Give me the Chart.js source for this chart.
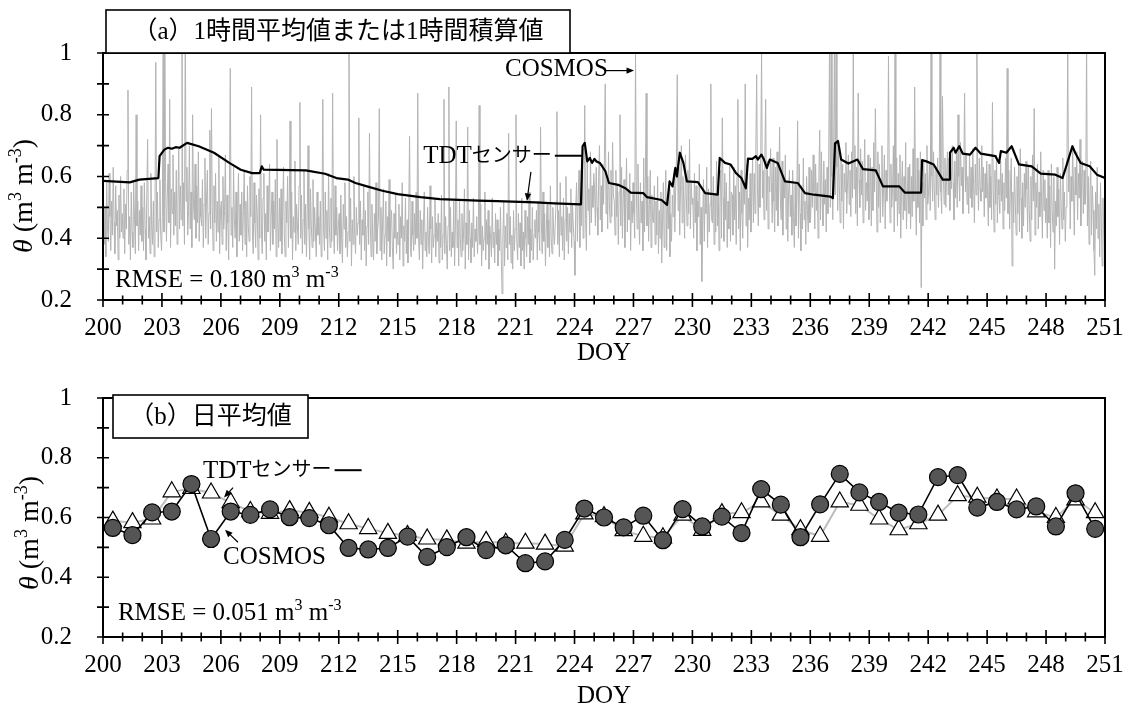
<!DOCTYPE html>
<html>
<head>
<meta charset="utf-8">
<script src="https://cdn.jsdelivr.net/npm/chart.js@4.4.1/dist/chart.umd.min.js"></script>
<style>
  html, body { margin: 0; padding: 0; background: #fff; }
  #wrap { position: relative; width: 1129px; height: 713px; overflow: hidden; }
  .panel { position: absolute; left: 0; }
</style>
</head>
<body>
<div id="wrap">
  <canvas id="daily" class="panel" style="top:360px" width="1129" height="353"></canvas>
  <canvas id="hourly" class="panel" style="top:0" width="1129" height="372"></canvas>
</div>
<script>
// ---- axis ranges and tick labels ----
const DOY_MIN = 200;
const DOY_MAX = 251;
const doyTickLabels = [200, 203, 206, 209, 212, 215, 218, 221, 224, 227, 230, 233, 236, 239, 242, 245, 248, 251];
const thetaTickLabels = [0.2, 0.4, 0.6, 0.8, 1.0];

// ---- (a) hourly COSMOS soil moisture, vol% (one row per DOY, 24 hours each) ----
const cosmosHourlyVolPct = [
  [55,38,50,34,58,43,39,61,47,36,52,41,63,45,35,57,44,49,33,54,40,60,42,48], // 200
  [40,56,35,51,43,62,88,38,47,33,55,42,37,58,46,35,80,44,52,36,49,41,57,39],
  [50,36,58,43,33,54,72,40,47,35,61,44,38,52,34,49,97,42,55,37,46,59,41,36],
  [47,105,42,110,58,39,53,64,45,85,37,56,48,67,41,55,44,62,38,51,69,43,57,46],
  [108,44,58,38,112,52,63,41,49,70,43,55,37,80,51,46,64,40,57,45,68,39,53,47],
  [44,59,37,51,66,40,53,62,38,48,75,43,82,50,36,57,45,61,39,52,42,67,35,49], // 205
  [52,38,60,43,49,67,36,54,45,33,58,95,41,50,37,63,46,40,55,34,48,61,39,51],
  [41,55,36,49,62,38,52,34,57,44,39,60,47,89,42,35,58,45,37,54,48,33,56,40],
  [80,43,35,53,61,39,48,33,57,42,50,64,36,47,55,38,52,43,59,34,72,45,37,53],
  [39,56,35,48,63,41,34,52,45,60,37,50,78,40,55,33,47,42,65,36,51,44,38,57],
  [84,40,54,35,46,62,38,51,34,48,70,43,33,56,44,37,59,39,50,42,34,55,41,47], // 210
  [38,52,34,46,85,43,36,55,40,49,33,61,44,37,53,39,87,46,35,57,41,50,36,44],
  [48,35,54,40,32,51,43,58,37,47,34,42,105,39,53,31,46,38,60,42,35,50,41,45],
  [79,38,52,33,46,41,57,36,49,31,44,55,38,74,45,34,51,40,33,48,39,58,35,43],
  [46,82,36,50,33,44,56,35,41,52,31,47,39,59,34,45,49,37,30,48,40,54,35,42],
  [38,51,33,47,40,58,31,44,39,53,35,46,32,49,73,37,34,52,41,36,48,38,55,40], // 215
  [87,40,33,49,38,46,30,44,55,36,42,34,50,39,35,57,43,32,47,37,41,53,34,45],
  [39,48,32,45,37,54,33,41,85,35,47,38,30,44,89,36,50,34,42,37,52,31,44,78],
  [37,46,31,52,40,34,48,36,42,56,30,45,38,76,33,49,40,32,45,37,53,34,43,39],
  [47,35,43,83,38,51,31,44,36,40,55,33,46,38,49,30,44,40,34,53,37,42,32,48],
  [38,46,31,43,36,50,34,22,40,52,31,44,37,48,33,74,38,47,32,41,30,49,36,43], // 220
  [80,39,33,48,37,45,31,53,36,42,30,49,40,34,47,38,55,32,43,36,50,33,41,46],
  [40,49,33,52,42,36,76,45,35,55,39,48,31,43,51,37,46,34,57,40,35,50,42,38],
  [45,52,81,38,49,34,58,41,47,36,53,33,46,60,39,50,35,48,42,56,37,51,44,39],
  [28,50,58,39,53,62,37,55,44,63,40,52,83,46,36,65,49,56,41,68,45,57,50,61],
  [56,44,63,50,41,60,70,46,57,42,64,51,67,90,48,59,43,68,52,45,62,47,71,54], // 225
  [52,41,62,47,57,38,55,80,44,63,40,53,59,37,50,66,42,56,46,61,36,52,45,58],
  [48,40,100,55,43,64,47,38,58,45,52,36,66,42,56,87,44,60,39,51,62,37,54,46],
  [45,57,38,52,41,60,35,49,40,55,32,46,58,37,50,62,36,53,43,56,34,48,39,54],
  [47,61,42,55,66,93,49,63,41,57,70,45,60,52,40,67,54,44,62,48,72,43,58,51],
  [53,40,61,45,57,36,52,47,64,38,50,26,44,59,39,55,48,63,37,56,42,51,90,46], // 230
  [45,60,38,54,42,65,44,57,36,50,62,40,79,53,39,61,46,58,37,52,43,64,39,55],
  [54,41,63,46,57,38,60,85,43,55,36,62,48,40,58,51,90,44,64,37,53,46,61,42],
  [52,66,45,61,48,70,93,56,44,64,50,68,100,53,62,46,67,85,49,65,43,60,55,69],
  [58,45,66,52,42,63,49,68,44,57,76,51,46,65,41,60,53,67,43,58,39,55,62,47],
  [54,41,62,47,37,58,44,53,78,40,64,48,36,57,43,66,46,52,38,60,49,42,63,45], // 235
  [47,62,50,67,55,43,64,49,58,40,61,75,46,68,53,44,65,51,59,42,63,48,66,102],
  [50,108,60,46,68,104,54,106,63,49,70,57,45,66,52,64,43,61,55,71,48,58,67,51],
  [62,47,68,53,100,56,70,48,63,44,87,59,50,69,54,65,45,60,72,49,58,52,67,46],
  [51,66,44,63,49,71,55,82,60,42,68,50,64,45,58,70,47,56,67,43,62,52,57,99],
  [59,45,64,50,56,70,42,104,52,66,44,61,48,67,40,57,65,46,60,49,71,43,54,63], // 240
  [48,64,43,60,47,69,52,89,56,41,66,50,62,45,68,24,58,44,65,53,61,46,70,51],
  [55,64,49,103,60,52,68,56,46,63,54,66,50,59,105,55,48,86,62,51,66,50,60,68],
  [54,66,49,62,56,70,58,46,65,53,68,50,80,60,52,71,57,63,48,61,87,55,67,51],
  [60,48,67,53,63,50,69,57,45,64,54,103,60,49,66,56,52,70,55,63,47,61,53,65],
  [55,44,64,50,60,46,84,56,42,62,51,67,45,59,54,48,65,52,61,43,58,49,66,53], // 245
  [95,48,62,43,57,66,31,55,45,63,51,41,60,48,64,42,69,53,40,58,44,61,50,65],
  [56,42,63,49,39,60,46,67,52,82,41,58,50,64,43,55,47,68,53,40,62,49,59,45],
  [53,40,62,45,57,37,64,49,42,60,30,52,44,63,47,56,38,61,50,43,66,46,55,39],
  [50,64,101,55,67,43,60,52,70,56,41,63,54,68,46,61,53,72,44,58,65,48,62,51],
  [54,105,44,60,38,52,65,41,57,49,36,28,55,43,63,40,51,34,58,46,31,53,42,35]  // 250
];

// ---- (a) TDT sensor trace: DOY and θ (m3 m-3) at each change of slope ----
const tdtTraceDoy = [200.0, 201.36, 201.85, 202.82, 202.88, 203.12, 203.31, 203.5, 203.7, 203.9, 204.28, 204.87, 205.65, 206.43, 207.01, 207.59, 207.98, 208.08, 208.18, 210.32, 211.3, 211.88, 212.46, 212.85, 213.44, 214.22, 215.0, 216.16, 217.14, 218.11, 219.08, 220.06, 222.0, 222.98, 224.33, 224.41, 224.52, 224.65, 224.78, 224.89, 225.02, 225.11, 225.29, 225.57, 225.75, 226.22, 226.59, 226.86, 227.51, 227.69, 228.43, 228.71, 228.84, 228.99, 229.13, 229.21, 229.36, 229.54, 229.72, 230.28, 230.65, 231.29, 231.39, 231.66, 231.94, 232.22, 232.49, 232.72, 232.83, 233.05, 233.23, 233.33, 233.51, 233.64, 233.79, 233.94, 234.34, 234.71, 235.36, 235.73, 236.19, 237.02, 237.15, 237.26, 237.41, 237.57, 237.94, 238.4, 238.68, 239.33, 239.7, 240.53, 240.81, 241.64, 241.69, 241.91, 242.28, 242.74, 243.06, 243.11, 243.3, 243.39, 243.58, 243.76, 244.13, 244.41, 244.68, 245.42, 245.61, 245.7, 245.98, 246.25, 246.62, 247.27, 247.73, 248.47, 248.84, 249.08, 249.34, 249.48, 249.76, 250.22, 250.59, 251.0];
const tdtTraceTheta = [0.586, 0.581, 0.590, 0.595, 0.666, 0.687, 0.693, 0.690, 0.695, 0.693, 0.709, 0.698, 0.677, 0.644, 0.622, 0.611, 0.611, 0.633, 0.622, 0.620, 0.609, 0.595, 0.590, 0.579, 0.568, 0.554, 0.543, 0.533, 0.527, 0.524, 0.522, 0.520, 0.516, 0.513, 0.510, 0.698, 0.709, 0.649, 0.660, 0.644, 0.657, 0.649, 0.644, 0.617, 0.579, 0.573, 0.562, 0.548, 0.546, 0.533, 0.524, 0.508, 0.584, 0.568, 0.628, 0.600, 0.677, 0.644, 0.584, 0.582, 0.546, 0.541, 0.660, 0.644, 0.639, 0.611, 0.595, 0.562, 0.658, 0.657, 0.666, 0.655, 0.671, 0.655, 0.628, 0.655, 0.644, 0.584, 0.579, 0.546, 0.541, 0.535, 0.530, 0.707, 0.715, 0.655, 0.642, 0.655, 0.624, 0.620, 0.568, 0.568, 0.548, 0.548, 0.653, 0.649, 0.639, 0.590, 0.590, 0.677, 0.693, 0.677, 0.698, 0.674, 0.671, 0.693, 0.674, 0.666, 0.644, 0.682, 0.677, 0.698, 0.639, 0.633, 0.609, 0.606, 0.595, 0.644, 0.698, 0.677, 0.644, 0.633, 0.606, 0.595];

// ---- (b) daily means, DOY 200 ... 250 (plotted at mid-day) ----
const dailyDoy = [200,201,202,203,204,205,206,207,208,209,210,211,212,213,214,215,216,217,218,219,220,221,222,223,224,225,226,227,228,229,230,231,232,233,234,235,236,237,238,239,240,241,242,243,244,245,246,247,248,249,250];
const tdtDaily = [0.588,0.583,0.595,0.686,0.697,0.682,0.650,0.620,0.614,0.623,0.617,0.601,0.579,0.563,0.547,0.540,0.528,0.525,0.514,0.520,0.514,0.514,0.511,0.504,0.612,0.603,0.556,0.537,0.532,0.608,0.557,0.613,0.616,0.652,0.608,0.559,0.537,0.652,0.641,0.595,0.559,0.579,0.608,0.673,0.668,0.662,0.662,0.619,0.600,0.659,0.616];
const cosmosDaily = [0.565,0.541,0.617,0.620,0.712,0.528,0.620,0.609,0.627,0.601,0.598,0.574,0.498,0.493,0.498,0.536,0.468,0.501,0.534,0.491,0.507,0.447,0.453,0.525,0.630,0.600,0.567,0.606,0.524,0.628,0.570,0.603,0.548,0.695,0.643,0.534,0.644,0.746,0.684,0.652,0.616,0.610,0.735,0.742,0.633,0.652,0.627,0.637,0.570,0.681,0.562];

// ---- build point lists ----
const cosmosHourlyPoints = [];
cosmosHourlyVolPct.forEach((row, di) => {
  row.forEach((v, h) => cosmosHourlyPoints.push({ x: DOY_MIN + di + (h + 0.5) / 24, y: v / 100 }));
});
const tdtTracePoints = tdtTraceDoy.map((d, i) => ({ x: d, y: tdtTraceTheta[i] }));
const tdtDailyPoints = dailyDoy.map((d, i) => ({ x: d + 0.5, y: tdtDaily[i] }));
const cosmosDailyPoints = dailyDoy.map((d, i) => ({ x: d + 0.5, y: cosmosDaily[i] }));

// ---- fonts ----
const SERIF = '"Liberation Serif", "Times New Roman", "Noto Sans CJK JP", serif';
const FS = 25;
Chart.defaults.font.family = SERIF;
Chart.defaults.color = '#000';

function fontFor(style, size) {
  if (style === 'i') return `italic ${size}px ${SERIF}`;
  if (style === 's') return `${Math.round(size * 0.64)}px ${SERIF}`;
  if (style === 'k') return `${Math.round(size * 0.8)}px ${SERIF}`;
  return `${size}px ${SERIF}`;
}
// text made of runs: [text, style]  style: '' normal, 'i' italic, 's' superscript, 'k' kana
function drawRich(ctx, runs, x, y, size, align) {
  let total = 0;
  const parts = runs.map(([t, st]) => {
    ctx.font = fontFor(st, size);
    const w = ctx.measureText(t).width;
    total += w;
    return { t, st, w };
  });
  let cx = align === 'center' ? x - total / 2 : x;
  for (const p of parts) {
    ctx.font = fontFor(p.st, size);
    ctx.fillText(p.t, cx, p.st === 's' ? y - size * 0.4 : y);
    cx += p.w;
  }
  return total;
}
function arrow(ctx, x0, y0, x1, y1) {
  const ang = Math.atan2(y1 - y0, x1 - x0);
  const L = 7.5, W = 3.2;
  ctx.beginPath();
  ctx.moveTo(x0, y0);
  ctx.lineTo(x1 - L * 0.8 * Math.cos(ang), y1 - L * 0.8 * Math.sin(ang));
  ctx.stroke();
  ctx.beginPath();
  ctx.moveTo(x1, y1);
  ctx.lineTo(x1 - L * Math.cos(ang) + W * Math.sin(ang), y1 - L * Math.sin(ang) - W * Math.cos(ang));
  ctx.lineTo(x1 - L * Math.cos(ang) - W * Math.sin(ang), y1 - L * Math.sin(ang) + W * Math.cos(ang));
  ctx.closePath();
  ctx.fill();
}

// frame, crossing ticks, titles and callouts of each panel
const panelDecor = {
  id: 'panelDecor',
  afterDatasetsDraw(chart, args, o) {
    const { ctx, chartArea: a, scales: { x, y } } = chart;
    ctx.save();
    ctx.strokeStyle = '#000';
    ctx.fillStyle = '#000';

    // plot frame
    ctx.lineWidth = 2;
    ctx.strokeRect(a.left, a.top, a.right - a.left, a.bottom - a.top);

    // crossing tick marks: every day on x (longer at labelled days), every 0.1 on y
    ctx.lineWidth = 1.6;
    ctx.beginPath();
    for (let d = DOY_MIN; d <= DOY_MAX; d++) {
      const px = x.getPixelForValue(d);
      const L = doyTickLabels.includes(d) ? 7 : 4.5;
      ctx.moveTo(px, a.bottom - L);
      ctx.lineTo(px, a.bottom + L);
    }
    for (let k = 2; k <= 10; k++) {
      const py = y.getPixelForValue(k / 10);
      ctx.moveTo(a.left - 6, py);
      ctx.lineTo(a.left + 6, py);
    }
    ctx.stroke();

    // panel title box
    const b = o.box;
    ctx.fillStyle = '#fff';
    ctx.fillRect(b.x, b.y, b.w, b.h);
    ctx.lineWidth = 1.6;
    ctx.strokeRect(b.x, b.y, b.w, b.h);
    ctx.fillStyle = '#000';
    ctx.font = `${b.size}px ${SERIF}`;
    ctx.textAlign = 'center';
    ctx.textBaseline = 'middle';
    ctx.fillText(b.text, b.x + b.w / 2 + (b.dx || 0), b.y + b.h / 2 + 1);

    // axis titles
    ctx.textAlign = 'left';
    ctx.textBaseline = 'alphabetic';
    ctx.save();
    ctx.translate(o.yTitle.x, o.yTitle.y);
    ctx.rotate(-Math.PI / 2);
    drawRich(ctx, [['θ', 'i'], [' (m', ''], ['3', 's'], [' m', ''], ['-3', 's'], [')', '']], 0, 0, 28, 'center');
    ctx.restore();
    ctx.font = `${FS}px ${SERIF}`;
    ctx.textAlign = 'center';
    ctx.textBaseline = 'middle';
    ctx.fillText('DOY', (a.left + a.right) / 2, o.doyY);

    // RMSE note
    ctx.textAlign = 'left';
    ctx.textBaseline = 'alphabetic';
    drawRich(ctx, [['RMSE = ' + o.rmse + ' m', ''], ['3', 's'], [' m', ''], ['-3', 's']],
      x.getPixelForValue(o.rmseAt[0]), y.getPixelForValue(o.rmseAt[1]), FS, 'left');

    // series callouts
    ctx.textBaseline = 'middle';
    for (const n of o.notes) {
      const px = x.getPixelForValue(n.at[0]);
      const py = y.getPixelForValue(n.at[1]);
      const w = drawRich(ctx, n.runs, px, py, FS, 'left');
      if (n.dash) {
        ctx.lineWidth = 2;
        ctx.beginPath();
        ctx.moveTo(px + w + 3, py - 1);
        ctx.lineTo(px + w + 30, py - 1);
        ctx.stroke();
      }
    }
    ctx.lineWidth = 1.2;
    for (const ar of o.arrows) {
      arrow(ctx, x.getPixelForValue(ar.from[0]), y.getPixelForValue(ar.from[1]),
                 x.getPixelForValue(ar.to[0]), y.getPixelForValue(ar.to[1]));
    }
    ctx.restore();
  }
};

function panelOptions(canvasH, plotTop, plotBottom, decor) {
  return {
    responsive: false,
    animation: false,
    devicePixelRatio: 1,
    layout: { padding: { top: plotTop, right: 24, bottom: 0, left: 0 } },
    plugins: { legend: { display: false }, tooltip: { enabled: false }, panelDecor: decor },
    scales: {
      x: {
        type: 'linear', min: DOY_MIN, max: DOY_MAX,
        grid: { display: false }, border: { display: false },
        afterBuildTicks: s => { s.ticks = doyTickLabels.map(v => ({ value: v })); },
        afterFit: s => { s.height = canvasH - plotBottom; },
        ticks: { autoSkip: false, maxRotation: 0, padding: 5, font: { size: FS }, color: '#000' }
      },
      y: {
        type: 'linear', min: 0.2, max: 1,
        grid: { display: false }, border: { display: false },
        afterBuildTicks: s => { s.ticks = thetaTickLabels.map(v => ({ value: v })); },
        afterFit: s => { s.width = 103; },
        ticks: { padding: 23, font: { size: FS }, color: '#000', callback: v => String(+(+v).toFixed(1)) }
      }
    }
  };
}

// (a) hourly panel
new Chart(document.getElementById('hourly'), {
  type: 'line',
  data: {
    datasets: [
      { label: 'TDTセンサー', data: tdtTracePoints, borderColor: '#000', borderWidth: 2.2,
        pointRadius: 0, tension: 0, borderJoinStyle: 'round', order: 1 },
      { label: 'COSMOS', data: cosmosHourlyPoints, borderColor: '#b3b3b3', borderWidth: 1,
        pointRadius: 0, tension: 0, borderJoinStyle: 'round', order: 2 }
    ]
  },
  options: panelOptions(372, 53, 300, {
    box: { x: 106, y: 10, w: 464, h: 43, size: 25, text: '（a）1時間平均値または1時間積算値' },
    yTitle: { x: 32, y: 196 },
    doyY: 353,
    rmse: '0.180',
    rmseAt: [200.61, 0.242],
    notes: [
      { runs: [['COSMOS', '']], at: [220.46, 0.946] },
      { runs: [['TDT', ''], ['センサー', 'k']], at: [216.3, 0.664], dash: true }
    ],
    arrows: [
      { from: [225.6, 0.943], to: [227.03, 0.943] },
      { from: [221.78, 0.615], to: [221.58, 0.521] }
    ]
  }),
  plugins: [panelDecor]
});

// (b) daily panel
new Chart(document.getElementById('daily'), {
  type: 'line',
  data: {
    datasets: [
      { label: 'COSMOS', data: cosmosDailyPoints, borderColor: '#000', borderWidth: 1.6,
        pointStyle: 'circle', pointRadius: 8.5, pointBackgroundColor: '#555', pointBorderColor: '#000',
        pointBorderWidth: 1.2, tension: 0, order: 1 },
      { label: 'TDTセンサー', data: tdtDailyPoints, borderColor: '#bdbdbd', borderWidth: 2,
        pointStyle: 'triangle', pointRadius: 10, pointBackgroundColor: '#fff', pointBorderColor: '#000',
        pointBorderWidth: 1.2, tension: 0, order: 2 }
    ]
  },
  options: panelOptions(353, 32, 277, {
    box: { x: 113, y: 35, w: 195, h: 43, size: 25, text: '（b）日平均値' },
    yTitle: { x: 38, y: 173 },
    doyY: 336,
    rmse: '0.051',
    rmseAt: [200.76, 0.256],
    notes: [
      { runs: [['TDT', ''], ['センサー', 'k']], at: [205.09, 0.755], dash: true },
      { runs: [['COSMOS', '']], at: [206.11, 0.465] }
    ],
    arrows: [
      { from: [206.62, 0.70], to: [206.16, 0.667] },
      { from: [206.87, 0.517], to: [206.21, 0.559] }
    ]
  }),
  plugins: [panelDecor]
});
</script>
</body>
</html>
